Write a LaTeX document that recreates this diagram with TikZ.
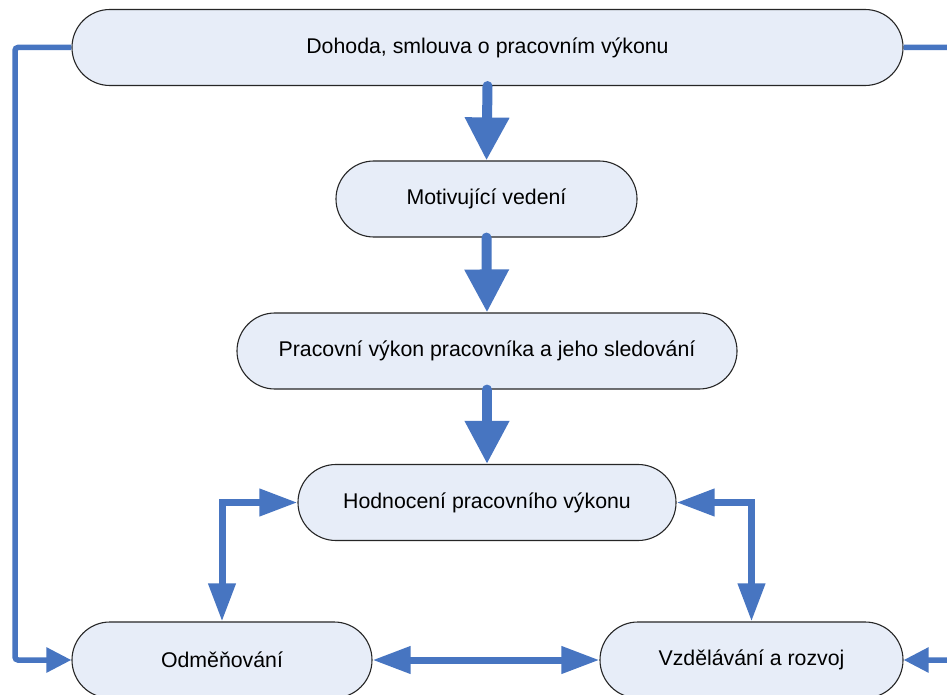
\documentclass[tikz,border=0pt]{standalone}
\usepackage{fontspec}
\setmainfont{Liberation Sans}
\usetikzlibrary{arrows.meta}
\definecolor{flowblue}{RGB}{71,117,193}
\definecolor{boxfill}{RGB}{231,237,248}
\begin{document}
\begin{tikzpicture}[x=1pt,y=-1pt,
  stage/.style={draw=black!85,line width=1.1pt,fill=boxfill,rounded corners=37.9pt,
    minimum height=76pt,inner sep=0pt,
    font=\fontsize{21.3}{25}\selectfont},
  mainflow/.style={draw=flowblue,line width=10pt,line cap=round,
    -{Triangle[length=43pt,width=42pt]}},
  link/.style={draw=flowblue,line width=7pt,
    {Triangle[length=38pt,width=26pt]}-{Triangle[length=38pt,width=26pt]}},
  feedback/.style={draw=flowblue,line width=5.5pt,rounded corners=3pt,
    -{Triangle[length=25pt,width=24pt]}}]
\clip (0,0) rectangle (947,695);
\fill[white] (0,0) rectangle (947,695);

\node[stage,minimum width=831pt] (dohoda) at (487.5,47.5) {Dohoda, smlouva o pracovním výkonu};
\node[stage,minimum width=301pt] (motiv) at (486.5,199) {Motivující vedení};
\node[stage,minimum width=500pt] (vykon) at (487,351) {Pracovní výkon pracovníka a jeho sledování};
\node[stage,minimum width=378pt] (hodn) at (487,502.5) {Hodnocení pracovního výkonu};
\node[stage,minimum width=300pt] (odm) at (222,660) {Odměňování};
\node[stage,minimum width=303pt] (vzd) at (751.5,660) {Vzdělávání a rozvoj};

% main sequence
\draw[mainflow] (dohoda.south) -- (motiv.north);
\draw[mainflow] (motiv.south) -- (vykon.north);
\draw[mainflow] (vykon.south) -- (hodn.north);

% links between appraisal, rewards and development
\draw[link] (hodn.west) -| (odm.north);
\draw[link] (hodn.east) -| (vzd.north);
\draw[link] (odm.east) -- (vzd.west);

% feedback from the agreement to rewards and development
\coordinate (lefttop) at (15,47.5);
\coordinate (leftbot) at (15,660);
\coordinate (righttop) at (965,47.5);
\coordinate (rightbot) at (965,660);
\draw[feedback] (dohoda.west) -- (lefttop) -- (leftbot) -- (odm.west);
\draw[feedback] (dohoda.east) -- (righttop) -- (rightbot) -- (vzd.east);
\end{tikzpicture}
\end{document}
